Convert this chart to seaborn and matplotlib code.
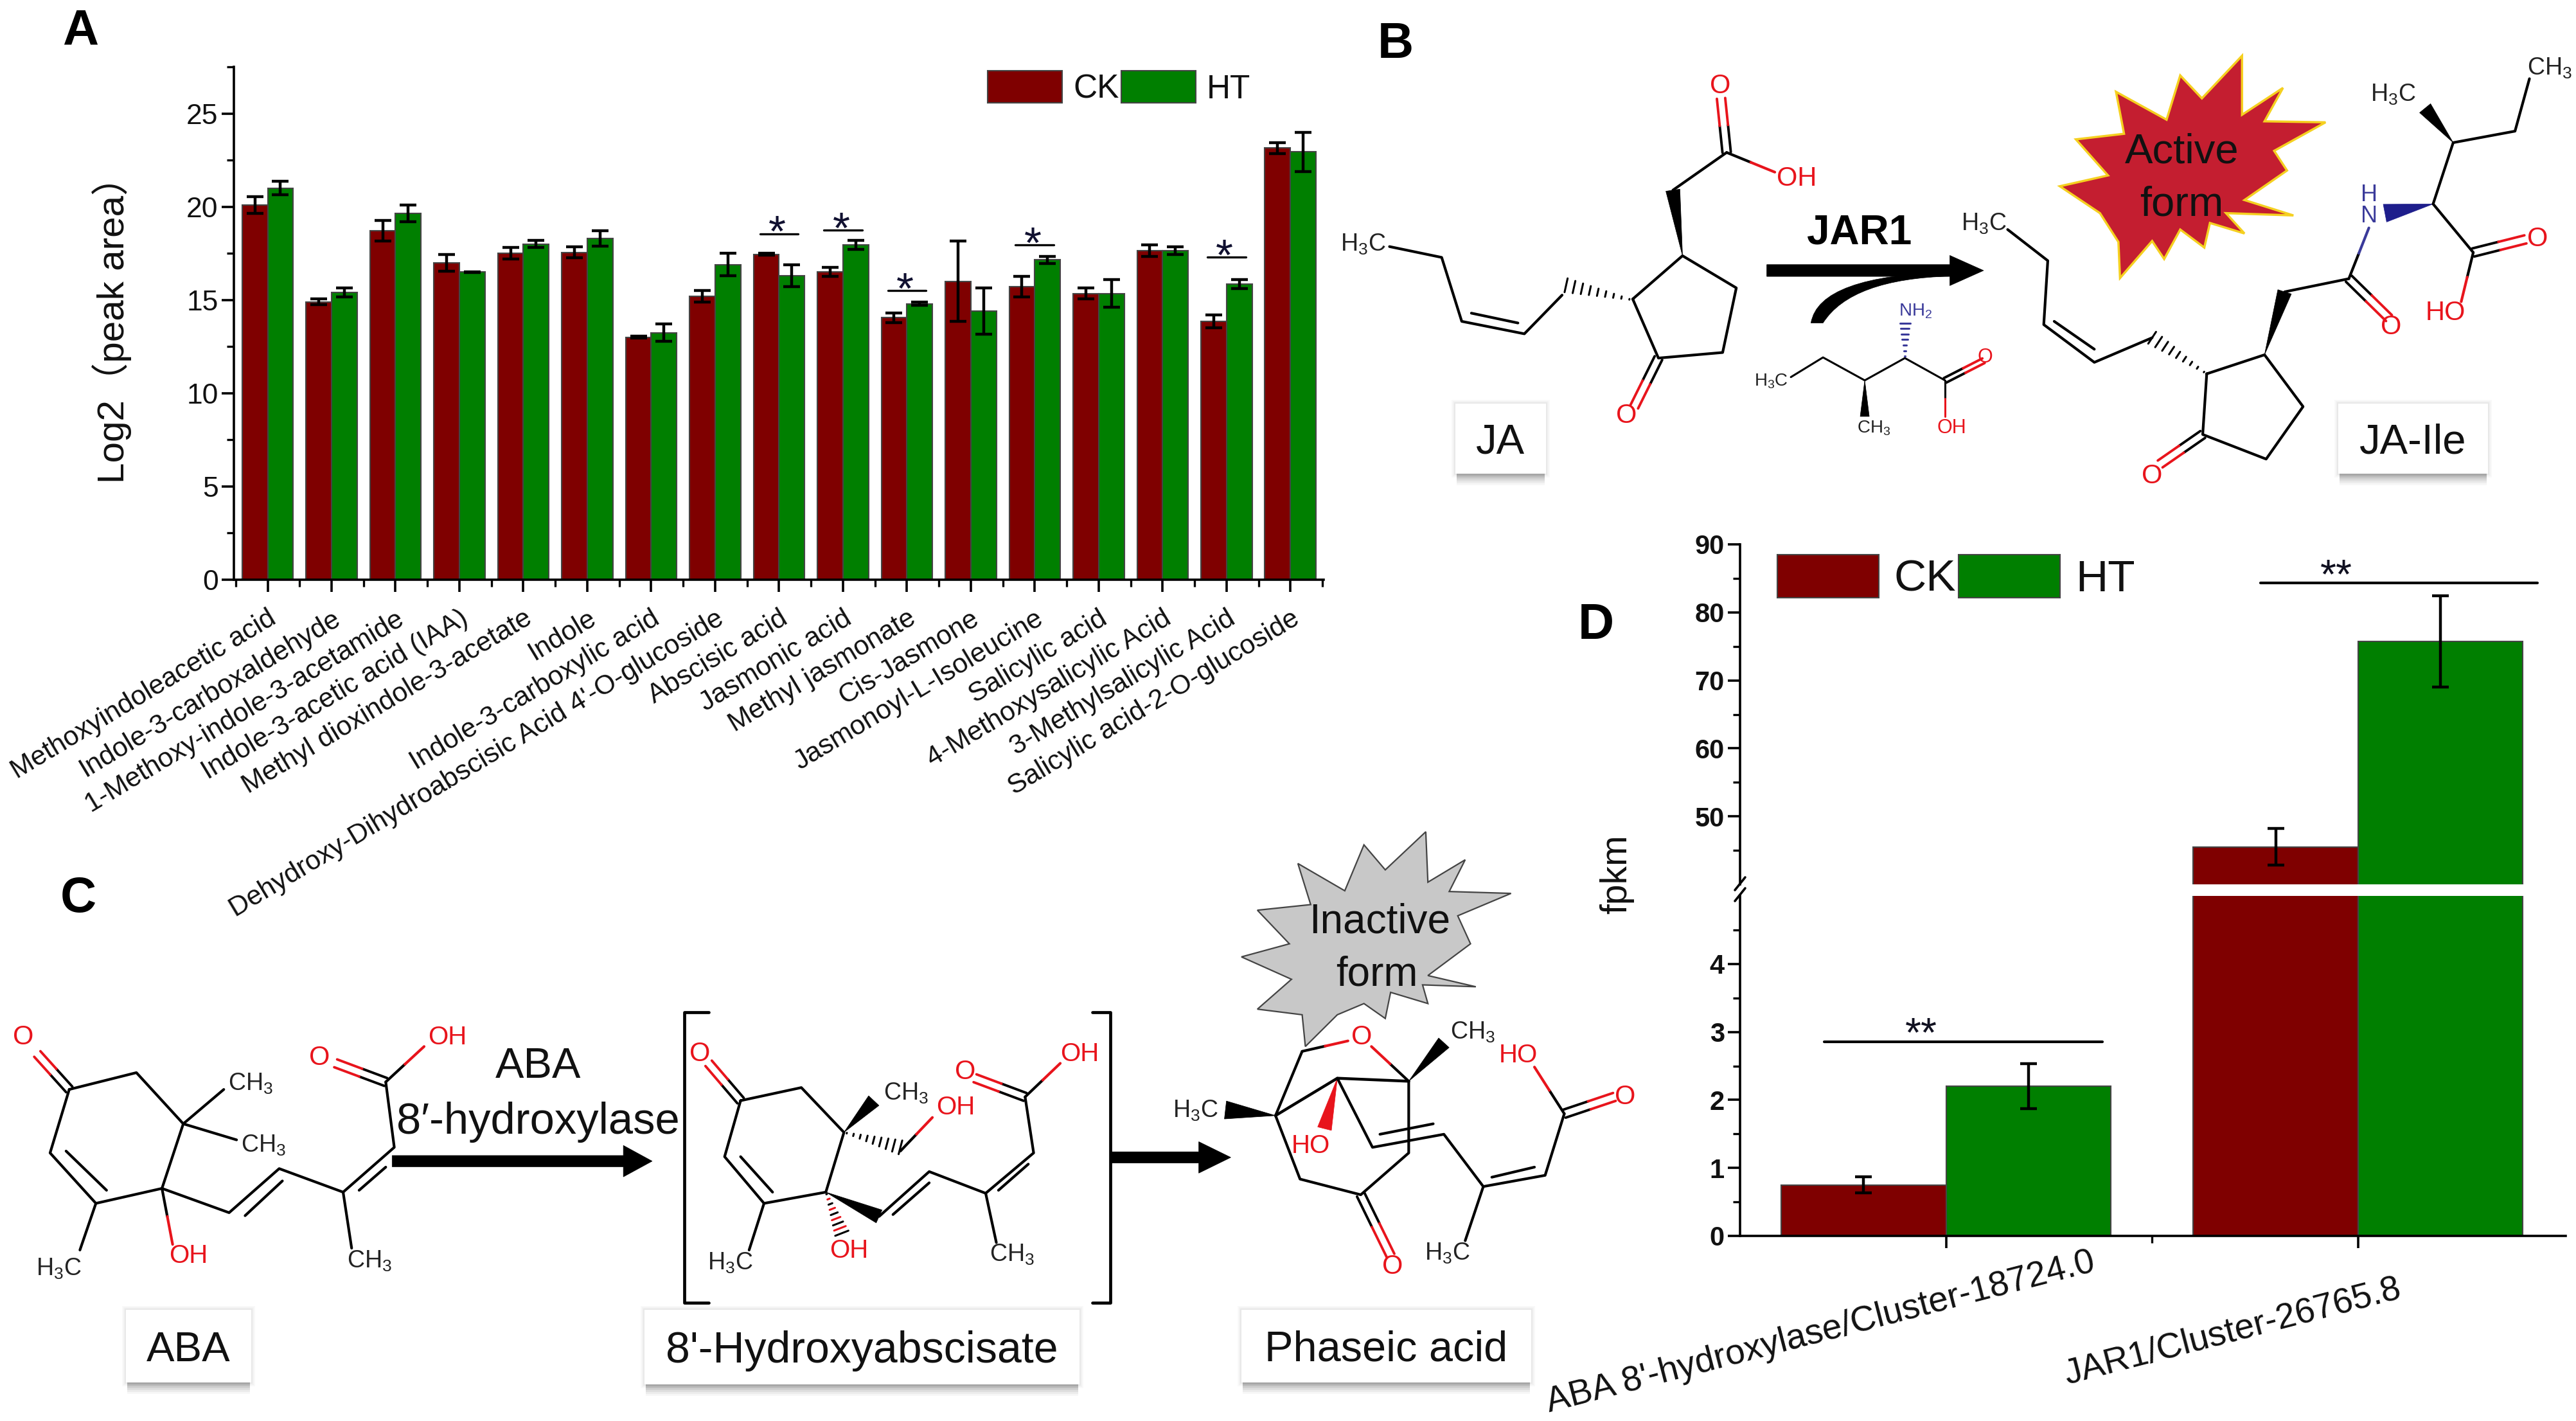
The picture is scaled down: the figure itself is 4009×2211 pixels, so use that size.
import numpy as np
import pandas as pd
import matplotlib
matplotlib.use('Agg')
import matplotlib.pyplot as plt
import seaborn as sns
from matplotlib.patches import Polygon, Rectangle, PathPatch
from matplotlib.path import Path
from matplotlib.ticker import MultipleLocator
from matplotlib.transforms import ScaledTranslation

metabolites = ['Methoxyindoleacetic acid', 'Indole-3-carboxaldehyde', '1-Methoxy-indole-3-acetamide',
               'Indole-3-acetic acid (IAA)', 'Methyl dioxindole-3-acetate', 'Indole', 'Indole-3-carboxylic acid',
               "Dehydroxy-Dihydroabscisic Acid 4'-O-glucoside", 'Abscisic acid', 'Jasmonic acid', 'Methyl jasmonate',
               'Cis-Jasmone', 'Jasmonoyl-L-Isoleucine', 'Salicylic acid', '4-Methoxysalicylic Acid',
               '3-Methylsalicylic Acid', 'Salicylic acid-2-O-glucoside']
peak_ck = [20.1, 14.9, 18.7, 17.0, 17.5, 17.55, 13.0, 15.2, 17.45, 16.5, 14.05, 16.0, 15.7, 15.35, 17.65, 13.85, 23.15]
peak_ht = [21.0, 15.4, 19.65, 16.5, 18.0, 18.3, 13.25, 16.9, 16.3, 17.95, 14.8, 14.4, 17.15, 15.35, 17.65, 15.85, 22.95]
peak_ck_err = [.45, .15, .55, .45, .3, .3, .05, .3, .05, .25, .25, 2.15, .55, .3, .3, .35, .3]
peak_ht_err = [.35, .25, .45, .02, .2, .4, .45, .6, .6, .25, .1, 1.25, .2, .75, .2, .25, 1.05]
peak_sig = {8: 18.55, 9: 18.75, 10: 15.5, 12: 17.95, 15: 17.3}

genes = ["ABA 8'-hydroxylase/Cluster-18724.0", 'JAR1/Cluster-26765.8']
fpkm_ck = [0.75, 45.5]
fpkm_ht = [2.2, 75.7]
fpkm_ck_err = [0.12, 2.7]
fpkm_ht_err = [0.33, 6.7]

W, H = 4009, 2211
RED, GREEN = '#7F0000', '#007F00'
sns.set_theme(style='white')
plt.rcParams['font.family'] = ['Liberation Sans', 'Noto Sans CJK SC', 'DejaVu Sans']
plt.rcParams['mathtext.default'] = 'regular'
plt.rcParams['mathtext.fontset'] = 'custom'
plt.rcParams['mathtext.rm'] = 'Liberation Sans'
fig = plt.figure(figsize=(W / 100, H / 100), dpi=100, facecolor='white')


def px_axes(l, t, r, b, **kw):
    return fig.add_axes([l / W, 1 - b / H, (r - l) / W, (b - t) / H], **kw)


def grouped(names, a, b):
    return pd.DataFrame({'name': list(names) * 2, 'group': ['CK'] * len(a) + ['HT'] * len(b), 'value': list(a) + list(b)})


def bars(ax, df, errs, capsize):
    sns.barplot(data=df, x='name', y='value', hue='group', palette={'CK': RED, 'HT': GREEN}, width=0.8, gap=0,
                saturation=1, errorbar=None, edgecolor='#444444', linewidth=1.5, ax=ax, legend=False)
    for cont, err in zip(ax.containers, errs):
        xs = [p.get_x() + p.get_width() / 2 for p in cont]
        hs = [p.get_height() for p in cont]
        ax.errorbar(xs, hs, yerr=err, fmt='none', ecolor='black', elinewidth=3.2, capsize=capsize, capthick=3.2)
    ax.set_xlabel('')
    ax.set_ylabel('')


def style(ax, labelsize, weight='normal'):
    sns.despine(ax=ax)
    for s in ['left', 'bottom']:
        ax.spines[s].set_linewidth(2.6)
        ax.spines[s].set_color('black')
    ax.tick_params(axis='both', which='major', length=14, width=2.6, color='black', labelsize=labelsize,
                   bottom=True, left=True, labelcolor='#111111')
    ax.tick_params(axis='both', which='minor', length=8, width=2.4, color='black', bottom=True, left=True)
    for t in ax.get_yticklabels():
        t.set_fontweight(weight)


def legend(ax, x, y, fs, hl, hh, tp):
    hs = [Rectangle((0, 0), 1, 1, fc=RED, ec='#444444', lw=1.5), Rectangle((0, 0), 1, 1, fc=GREEN, ec='#444444', lw=1.5)]
    ax.legend(hs, ['CK', 'HT'], ncol=2, frameon=False, loc='upper left', bbox_to_anchor=(x / W, 1 - y / H),
              bbox_transform=fig.transFigure, fontsize=fs, handlelength=hl, handleheight=hh, handletextpad=tp,
              columnspacing=0.05, borderpad=0, borderaxespad=0, labelcolor='#111111')


# ---------- Panel A
axA = px_axes(364, 104, 2060, 902)
bars(axA, grouped(metabolites, peak_ck, peak_ht), [peak_ck_err, peak_ht_err], 9.5)
axA.set_xlim(-0.528, 16.52)
axA.set_ylim(0, 27.5)
axA.yaxis.set_major_locator(MultipleLocator(5))
axA.yaxis.set_minor_locator(MultipleLocator(2.5))
axA.xaxis.set_minor_locator(MultipleLocator(0.5))
axA.set_xticks(range(len(metabolites)))
axA.set_xticklabels(metabolites, rotation=31, ha='right', rotation_mode='anchor', color='#222222')
style(axA, 32)
axA.tick_params(axis='x', labelsize=30.5, pad=15)
for i, y in peak_sig.items():
    axA.plot([i - 0.3, i + 0.3], [y, y], color='black', lw=2.4)
    axA.text(i - 0.03, y - 0.05, '*', ha='center', va='center', fontsize=50, color='#101030')
legend(axA, 1537, 110, 37, 2.26, 1.13, 0.34)

# ---------- Panel D (broken axis)
axU = px_axes(2708, 847, 3993, 1376)
axL = px_axes(2708, 1394, 3993, 1923)
for ax, lim in ((axU, (40, 90)), (axL, (0, 5))):
    bars(ax, grouped(genes, fpkm_ck, fpkm_ht), [fpkm_ck_err, fpkm_ht_err], 9.5)
    ax.set_xlim(-0.5, 1.504)
    ax.set_ylim(*lim)
axU.set_yticks([50, 60, 70, 80, 90])
axU.set_yticks([45, 55, 65, 75, 85], minor=True)
axL.set_yticks([0, 1, 2, 3, 4])
axL.set_yticks(np.arange(0.5, 5, 1), minor=True)
axL.set_xticks([0, 1])
axL.set_xticks([0.5], minor=True)
axL.set_xticklabels(genes, rotation=14.5, ha='center', va='center', color='#333333')
style(axU, 30, 'bold')
style(axL, 30, 'bold')
axU.spines['bottom'].set_visible(False)
axU.tick_params(axis='x', which='both', bottom=False, labelbottom=False)
axL.tick_params(axis='x', labelsize=39.5, pad=2)
for t in axL.get_xticklabels():
    t.set_transform(t.get_transform() + ScaledTranslation(-195 / 100, -128 / 100, fig.dpi_scale_trans))
legend(axU, 2766, 863, 50, 2.28, 1.1, 0.34)
axL.plot([-0.296, 0.379], [2.85, 2.85], color='black', lw=3)
axL.text(-0.06, 2.95, '**', ha='center', va='center', fontsize=46, color='#101020')
axU.plot([0.764, 1.436], [84.3, 84.3], color='black', lw=3)
axU.text(0.947, 85.2, '**', ha='center', va='center', fontsize=46, color='#101020')

# ---------- Overlay: letters, schemes
ov = fig.add_axes([0, 0, 1, 1], facecolor='none', zorder=5)
ov.set_xlim(0, W)
ov.set_ylim(H, 0)
ov.axis('off')


def T(x, y, s, fs=30, c='#111111', **kw):
    kw.setdefault('ha', 'center')
    kw.setdefault('va', 'center')
    ov.text(x, y, s, fontsize=fs, color=c, **kw)


T(174, 752, 'Log2（peak area）', 42, rotation=90, va='bottom')
T(2516, 1360, 'fpkm', 41, rotation=90)
for x, y, s in [(125, 49, 'A'), (2172, 70, 'B'), (122, 1398, 'C'), (2484, 974, 'D')]:
    T(x, y, s, 56, 'black', fontweight='bold')
for dy in (0, 17):
    ov.plot([2700, 2716], [1385 + dy, 1365 + dy], color='black', lw=2.6)

ORed = '#E8141C'
NBlue = '#3A3A9A'


def scheme(ox, oy, sx, sy):
    P = lambda p: (ox + p[0] / sx, oy + p[1] / sy)

    def line(pts, c='black', lw=3.0):
        q = np.array([P(p) for p in pts])
        ov.plot(q[:, 0], q[:, 1], color=c, lw=lw, solid_capstyle='round', solid_joinstyle='round')

    def half(a, b, c1='black', c2=ORed, lw=3.0):
        m = ((a[0] + b[0]) / 2, (a[1] + b[1]) / 2)
        line([a, m], c1, lw)
        line([m, b], c2, lw)

    def dbl(a, b, c2=ORed, off=6.5):
        A, B = np.array(P(a)), np.array(P(b))
        n = np.array([-(B - A)[1], (B - A)[0]]) / np.linalg.norm(B - A) * off
        for s in (-1, 1):
            u, v = A + s * n, B + s * n
            m = (u + v) / 2
            ov.plot([u[0], m[0]], [u[1], m[1]], color='black', lw=2.8)
            ov.plot([m[0], v[0]], [m[1], v[1]], color=c2, lw=2.8)

    def wedge(a, b, w=11, c='black'):
        A, B = np.array(P(a)), np.array(P(b))
        n = np.array([-(B - A)[1], (B - A)[0]]) / np.linalg.norm(B - A) * w
        ov.add_patch(Polygon([A, B + n, B - n], fc=c, ec=c, lw=0.5))

    def hashed(a, b, w=11, c='black', c2=None, k=9):
        A, B = np.array(P(a)), np.array(P(b))
        n = np.array([-(B - A)[1], (B - A)[0]]) / np.linalg.norm(B - A) * w
        for i, f in enumerate(np.linspace(0.05, 1, k)):
            q = A + (B - A) * f
            col = c2 if (c2 and i % 2) else c
            ov.plot([q[0] - n[0] * f, q[0] + n[0] * f], [q[1] - n[1] * f, q[1] + n[1] * f], color=col, lw=2.2)

    def lab(p, s, c='#222222', fs=27):
        x, y = P(p)
        T(x, y, s, fs, c)

    def arrow(x0, x1, hx, yc, bh, hh):
        pts = [(x0, yc - bh), (hx, yc - bh), (hx, yc - hh), (x1, yc), (hx, yc + hh), (hx, yc + bh), (x0, yc + bh)]
        ov.add_patch(Polygon([P(p) for p in pts], fc='black', ec='black', lw=0.5))

    def star(pts, fc, ec, lw=2.5):
        ov.add_patch(Polygon([P(p) for p in pts], fc=fc, ec=ec, lw=lw, joinstyle='miter', zorder=0.5))

    def box(x0, y0, x1, y1, s, fs):
        a, b = P((x0, y0)), P((x1, y1))
        for g, al in ((6, .03), (4, .04), (2, .06)):
            ov.add_patch(Rectangle((a[0] - g, a[1] - g), b[0] - a[0] + 2 * g, b[1] - a[1] + 2 * g, fc='#555555', ec='none', alpha=al))
        for d, al in ((18, .05), (15, .07), (12, .09), (9, .12), (6, .14), (3, .16)):
            ov.add_patch(Rectangle((a[0] + 2, b[1] - 6), b[0] - a[0] - 4, 6 + d, fc='#666666', ec='none', alpha=al))
        ov.add_patch(Rectangle(a, b[0] - a[0], b[1] - a[1], fc='white', ec='none'))
        T((a[0] + b[0]) / 2, (a[1] + b[1]) / 2 + 6, s, fs)

    return line, half, dbl, wedge, hashed, lab, arrow, star, box, P


H3C, CH3, NH2 = 'H$_3$C', 'CH$_3$', 'NH$_2$'

# Panel B
line, half, dbl, wedge, hashed, lab, arrow, star, box, P = scheme(2050, 0, 0.8004, 1.96)
star([(1152, 170), (1152, 350), (1203, 268), (1180, 370), (1256, 373), (1192, 460), (1208, 520), (1155, 610),
      (1216, 657), (1132, 650), (1155, 712), (1112, 680), (1105, 755), (1075, 700), (1055, 790), (1040, 735),
      (1000, 848), (998, 738), (975, 650), (925, 568), (985, 535), (945, 425), (1005, 408), (995, 280),
      (1058, 365), (1075, 230), (1102, 300)], '#C41E30', '#F5D020')
T(*P((1077, 463)), 'Active', 47)
T(*P((1077, 625)), 'form', 47)
# JA
line([(90, 752), (155, 785), (180, 980), (258, 1018), (305, 900)])
line([(192, 955), (250, 985)])
hashed((393, 915), (310, 870))
line([(393, 912), (455, 780), (522, 878), (505, 1075), (425, 1092), (393, 912)])
wedge((455, 780), (443, 580))
line([(443, 580), (510, 465)])
dbl((510, 465), (503, 300))
half((510, 465), (570, 525))
dbl((425, 1092), (395, 1240))
lab((57, 745), H3C)
lab((502, 262), 'O', ORed, 30)
lab((597, 545), 'OH', ORed, 30)
lab((385, 1268), 'O', ORed, 30)
# Arrow + JAR1
arrow(560, 830, 788, 825, 18, 46)
ov.add_patch(PathPatch(Path([P((615, 985)), P((625, 840)), P((790, 830)), P((790, 842)), P((665, 850)), P((630, 985)), P((615, 985))],
                            [Path.MOVETO, Path.CURVE3, Path.CURVE3, Path.LINETO, Path.CURVE3, Path.CURVE3, Path.CLOSEPOLY]),
                       fc='black', ec='black', lw=0.5))
T(*P((675, 710)), 'JAR1', 46, 'black', fontweight='bold')
# Ile
line([(590, 1150), (630, 1090), (682, 1160), (732, 1092), (782, 1160)], lw=2.2)
wedge((682, 1160), (682, 1270), 7)
hashed((732, 1092), (732, 985), 8, NBlue, k=7)
dbl((782, 1160), (830, 1100), off=4)
half((782, 1160), (782, 1270), lw=2.2)
lab((565, 1163), H3C, fs=20)
lab((693, 1305), CH3, fs=20)
lab((745, 950), NH2, NBlue, 20)
lab((832, 1090), 'O', ORed, 22)
lab((790, 1305), 'OH', ORed, 22)
# JA-Ile
line([(860, 700), (910, 795), (905, 990), (968, 1105), (1040, 1030)])
line([(918, 980), (968, 1065)])
hashed((1108, 1140), (1040, 1030))
line([(1108, 1140), (1180, 1082), (1228, 1240), (1182, 1400), (1103, 1325), (1108, 1140)])
dbl((1103, 1325), (1050, 1415))
wedge((1180, 1082), (1205, 890))
line([(1205, 890), (1285, 850)])
dbl((1285, 850), (1335, 970))
half((1285, 850), (1310, 695), c2=NBlue)
wedge((1390, 622), (1330, 650), 14, '#1E1E8C')
line([(1390, 622), (1415, 435)])
wedge((1415, 435), (1380, 330))
line([(1415, 435), (1492, 400), (1510, 240)])
line([(1390, 622), (1440, 770)])
dbl((1440, 770), (1505, 730))
half((1440, 770), (1425, 920))
lab((830, 682), H3C)
lab((1040, 1452), 'O', ORed, 30)
lab((1338, 998), 'O', ORed, 30)
lab((1310, 595), 'H', NBlue, 26)
lab((1310, 660), 'N', NBlue, 26)
lab((1340, 288), H3C)
lab((1535, 208), CH3)
lab((1520, 730), 'O', ORed, 30)
lab((1405, 955), 'HO', ORed, 30)
box(172, 1230, 285, 1445, 'JA', 47)
box(1272, 1230, 1458, 1445, 'JA-Ile', 47)

# Panel C
line, half, dbl, wedge, hashed, lab, arrow, star, box, P = scheme(0, 1300, 0.603, 1.721)
# ABA
dbl((65, 680), (35, 585))
line([(65, 680), (128, 635), (172, 772), (152, 945), (90, 985), (47, 850), (65, 680)])
line([(62, 845), (100, 950)])
line([(172, 772), (210, 680)])
line([(172, 772), (222, 815)])
half((152, 945), (162, 1095))
line([(90, 985), (75, 1110)])
line([(152, 945), (215, 1010), (262, 892), (322, 955), (370, 835), (362, 660)])
line([(230, 1018), (265, 925)])
line([(337, 950), (362, 888)])
line([(322, 955), (330, 1105)])
dbl((362, 660), (315, 610))
half((362, 660), (398, 565))
lab((22, 540), 'O', ORed, 30)
lab((235, 665), CH3)
lab((247, 830), CH3)
lab((177, 1125), 'OH', ORed, 29)
lab((55, 1160), H3C)
lab((347, 1140), CH3)
lab((300, 595), 'O', ORed, 30)
lab((420, 540), 'OH', ORed, 29)
arrow(368, 612, 585, 872, 15, 42)
T(*P((505, 620)), 'ABA', 48)
T(*P((505, 768)), "8′-hydroxylase", 49.5)
# Brackets
line([(665, 473), (642, 473), (642, 1252), (665, 1252)], lw=3.4)
line([(1025, 473), (1042, 473), (1042, 1252), (1025, 1252)], lw=3.4)
# Intermediate
dbl((695, 710), (665, 610))
line([(695, 710), (752, 675), (792, 795), (775, 955), (717, 985), (680, 860), (695, 710)])
line([(695, 860), (725, 955)])
wedge((792, 795), (820, 710))
hashed((792, 795), (845, 835))
half((845, 845), (875, 755))
hashed((775, 955), (790, 1065), c2=ORed)
line([(717, 985), (703, 1110)])
wedge((775, 955), (825, 1020))
line([(825, 1020), (872, 900), (925, 958), (970, 850), (962, 700)])
line([(838, 1015), (872, 930)])
line([(937, 950), (965, 880)])
line([(925, 958), (935, 1090)])
dbl((962, 700), (915, 650))
half((962, 700), (995, 610))
lab((657, 585), 'O', ORed, 30)
lab((850, 690), CH3)
lab((897, 728), 'OH', ORed, 29)
lab((797, 1112), 'OH', ORed, 29)
lab((685, 1145), H3C)
lab((950, 1122), CH3)
lab((906, 633), 'O', ORed, 30)
lab((1013, 585), 'OH', ORed, 29)
arrow(1042, 1155, 1125, 862, 15, 42)
# Inactive star
star([(1218, 75), (1262, 148), (1280, 25), (1300, 92), (1338, -10), (1340, 125), (1375, 65), (1360, 150), (1418, 155),
      (1368, 215), (1380, 290), (1340, 375), (1385, 405), (1335, 400), (1340, 450), (1305, 420), (1300, 490), (1280, 450),
      (1255, 480), (1225, 565), (1222, 480), (1180, 465), (1212, 385), (1165, 325), (1210, 290), (1180, 200), (1230, 185)],
     '#C8C8C8', '#444444', 1.6)
T(*P((1295, 232)), 'Inactive', 46)
T(*P((1292, 372)), 'form', 46)
# Phaseic acid
half((1222, 578), (1265, 550))
half((1322, 658), (1287, 565))
line([(1222, 578), (1197, 750)])
wedge((1197, 750), (1150, 735), 14)
line([(1197, 750), (1255, 650), (1322, 658)], lw=3.2)
wedge((1322, 658), (1355, 555))
line([(1197, 750), (1220, 920), (1277, 962), (1322, 850), (1322, 658)])
line([(1255, 650), (1288, 835), (1355, 800), (1392, 940), (1450, 910), (1468, 745)])
line([(1295, 800), (1345, 772)])
line([(1400, 915), (1440, 888)])
wedge((1255, 650), (1243, 785), 11, ORed)
dbl((1277, 962), (1305, 1125))
line([(1392, 940), (1375, 1085)])
dbl((1468, 745), (1515, 700))
half((1468, 745), (1440, 620))
lab((1278, 540), 'O', ORed, 30)
lab((1122, 738), H3C)
lab((1382, 528), CH3)
lab((1230, 832), 'HO', ORed, 29)
lab((1307, 1155), 'O', ORed, 30)
lab((1358, 1120), H3C)
lab((1525, 700), 'O', ORed, 30)
lab((1425, 588), 'HO', ORed, 29)
box(118, 1270, 236, 1465, 'ABA', 47)
box(605, 1270, 1013, 1470, "8'-Hydroxyabscisate", 49)
box(1165, 1270, 1437, 1465, 'Phaseic acid', 48)

fig.savefig('out.png', dpi=100, facecolor='white')
